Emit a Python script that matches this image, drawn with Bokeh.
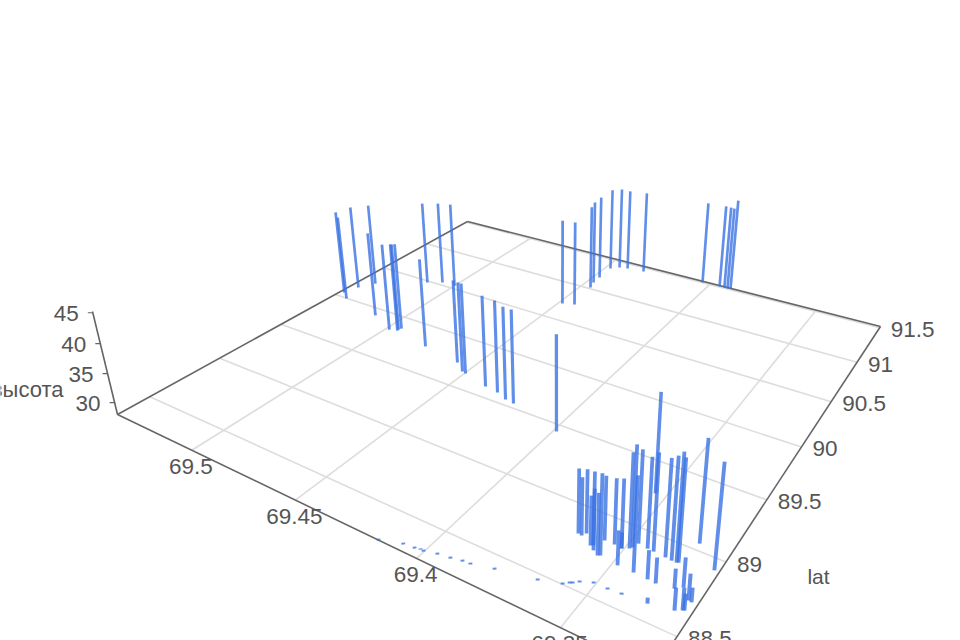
import numpy as np
from bokeh.plotting import figure
from bokeh.embed import file_html
from bokeh.resources import INLINE
from bokeh.core.properties import value

lon = [69.5388,69.5338,69.5368,69.5329,69.5118,69.4983,69.4948,69.4950,69.4945,69.5129,
       69.5069,69.5002,69.4573,69.4762,69.4515,69.4496,69.4374,69.4311,69.4258,69.4218,
       69.3988,69.4482,69.4431,69.4455,69.4469,69.4471,69.4475,69.4443,69.4405,69.4325,
       69.4037,69.3953,69.3930,69.3914,69.3902,69.3650,69.3637,69.3629,69.3585,69.3592,
       69.3574,69.3553,69.3546,69.3567,69.3533,69.3483,69.3507,69.3507,69.3487,69.3481,
       69.3430,69.3474,69.3441,69.3536,69.3420,69.3379,69.3358,69.3342,69.3337,69.3318,
       69.3235,69.3383,69.3356,69.3302,69.3282,69.3249,69.3239,69.3266,69.3247,69.3243,
       69.3341,69.4147,69.4072,69.4032,69.4014,69.4001,69.3958,69.3915,69.3877,69.3850,
       69.3778,69.3648,69.3579,69.3564,69.3557,69.3542,69.3506,69.3461,69.3418]
lat = [90.055,89.996,90.164,90.274,89.916,89.820,89.837,89.851,89.871,90.480,
       90.536,90.543,89.726,89.774,89.660,89.652,89.599,89.584,89.549,89.540,
       89.440,90.712,90.742,91.019,91.098,91.189,91.360,91.409,91.425,91.442,
       91.502,91.507,91.510,91.507,91.518,88.813,88.809,88.833,88.781,88.773,
       88.753,88.734,88.741,88.836,88.837,88.727,88.831,88.831,88.850,88.863,
       88.726,88.900,88.893,89.258,88.890,88.884,88.881,88.881,88.886,89.047,
       88.925,88.721,88.718,88.734,88.760,88.703,88.700,88.621,88.639,88.643,
       88.596,88.288,88.328,88.335,88.344,88.341,88.359,88.370,88.383,88.387,
       88.418,88.463,88.500,88.521,88.528,88.549,88.576,88.577,88.583]
height = [43.9,43.9,44.0,43.7,43.7,43.9,44.1,43.9,43.8,43.9,
          43.9,44.2,42.7,43.9,43.7,43.8,43.7,43.8,43.8,43.9,
          43.9,44.1,43.9,44.0,44.1,44.2,44.1,44.1,43.9,44.0,
          43.9,44.0,43.9,43.9,45.4,37.8,36.8,37.7,39.0,35.5,
          37.2,37.3,40.1,37.7,37.9,33.2,30.4,38.4,42.1,43.1,
          42.0,41.9,41.5,43.6,42.5,42.5,43.2,44.0,43.2,43.5,
          43.6,32.3,31.8,30.9,32.4,31.9,30.1,31.3,31.3,30.4,
          28.8,28.2,28.2,28.2,28.1,28.2,28.2,28.2,28.2,28.2,
          28.2,28.2,28.2,28.2,28.2,28.2,28.2,28.2,28.2]
lon_ticks = [69.5, 69.45, 69.4, 69.35]
lat_ticks = [88.5, 89, 89.5, 90, 90.5, 91, 91.5]
height_ticks = [30, 35, 40, 45]

LON_FAR, LON_NEAR = 69.541, 69.322
LAT_LOW, LAT_HIGH = 88.29, 91.52
Z_LOW, Z_HIGH = 27.9, 45.2

# perspective camera: ground corners on the page and the vertical vanishing point
corners = [(117, 414), (467, 221), (880, 326), (653, 672)]
VP = (557, 2227)
unit = [(1, 0), (1, 1), (0, 1), (0, 0)]
M, b = [], []
for (u, v), (x, y) in zip(unit, corners):
    M.append([u, v, 1, 0, 0, 0, -u*x, -v*x]); b.append(x)
    M.append([0, 0, 0, u, v, 1, -u*y, -v*y]); b.append(y)
h = np.linalg.solve(np.array(M, float), np.array(b, float))
H = np.array([[h[0], h[1], h[2]], [h[3], h[4], h[5]], [h[6], h[7], 1]])
pa = H @ np.array([1, 0, 1])
SZ = ((311*pa[2] - pa[1]) / (VP[1] - 311)) / (Z_HIGH - Z_LOW)


def project(lo, la, z=Z_LOW):
    u = (np.asarray(lo, float) - LON_NEAR) / (LON_FAR - LON_NEAR)
    v = (np.asarray(la, float) - LAT_LOW) / (LAT_HIGH - LAT_LOW)
    d = (np.asarray(z, float) - Z_LOW) * SZ
    X = H[0, 0]*u + H[0, 1]*v + H[0, 2] + d*VP[0]
    Y = H[1, 0]*u + H[1, 1]*v + H[1, 2] + d*VP[1]
    W = H[2, 0]*u + H[2, 1]*v + H[2, 2] + d
    return X/W, Y/W


FONT = value("Liberation Sans")
TEXT = "#555555"
p = figure(width=960, height=640, x_range=(0, 960), y_range=(640, 0),
           output_backend="svg", toolbar_location=None, min_border=0,
           outline_line_color=None, margin=(0, 0, 0, 0))
p.axis.visible = False
p.grid.visible = False


def seg(a, b_, **kw):
    p.segment(a[0], a[1], b_[0], b_[1], **kw)


# grid
for t in lon_ticks:
    seg(project(t, LAT_LOW), project(t, LAT_HIGH), line_color="#dddddd", line_width=1.6)
for t in lat_ticks:
    seg(project(LON_FAR, t), project(LON_NEAR, t), line_color="#dddddd", line_width=1.6)
# axis lines
box = [(LON_FAR, LAT_LOW), (LON_FAR, LAT_HIGH), (LON_NEAR, LAT_HIGH), (LON_NEAR, LAT_LOW), (LON_FAR, LAT_LOW)]
for c0, c1 in zip(box[:-1], box[1:]):
    seg(project(*c0), project(*c1), line_color="#666666", line_width=1.6)
seg(project(LON_FAR, LAT_LOW, Z_LOW), project(LON_FAR, LAT_LOW, Z_HIGH), line_color="#666666", line_width=1.6)
for t in height_ticks:
    x, y = project(LON_FAR, LAT_LOW, t)
    p.segment([x], [y], [x-5], [y], line_color="#666666", line_width=1.2)

# bars: nearer bars are drawn wider, as in a perspective view
bx, by = project(lon, lat, Z_LOW)
tx, ty = project(lon, lat, height)
widths = 2.4 + 1.6 * (by - 220) / 380
p.segment(bx, by, tx, ty, line_color="#3a72e2", line_width=widths, line_alpha=0.8)

# tick labels
x, y = project(lon_ticks, LAT_LOW)
p.text(x-1, y+16, text=[f"{t:g}" for t in lon_ticks], text_font=FONT, text_font_size="22.5px",
       text_color=TEXT, text_align="center", text_baseline="middle")
x, y = project(LON_NEAR, lat_ticks)
p.text(x+11, y+2, text=[f"{t:g}" for t in lat_ticks], text_font=FONT, text_font_size="22.5px",
       text_color=TEXT, text_align="left", text_baseline="middle")
x, y = project(LON_FAR, LAT_LOW, height_ticks)
p.text(x-14, y+1, text=[str(t) for t in height_ticks], text_font=FONT, text_font_size="22.5px",
       text_color=TEXT, text_align="right", text_baseline="middle")
# axis titles
p.text([818], [576], text=["lat"], text_font=FONT, text_font_size="21px", text_color=TEXT,
       text_align="center", text_baseline="middle")
p.text([63], [389], text=["высота"], text_font=FONT, text_font_size="22px", text_color=TEXT,
       text_align="right", text_baseline="middle")

open("out.html", "w").write(file_html(p, INLINE))
